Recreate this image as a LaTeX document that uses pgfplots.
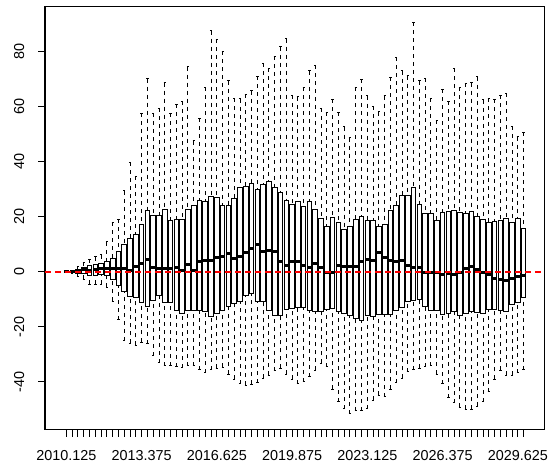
\documentclass[border=0pt]{standalone}
\usepackage{pgfplots}
\pgfplotsset{compat=1.18}
\usepackage{pgfplotstable}
\usepgfplotslibrary{statistics}
\usepackage{fontspec}
\setmainfont{Liberation Sans}
\begin{document}
\pgfplotstableread{
lw lq med uq uw
-0.2 -0.1 0.0 0.1 0.2
-0.5 -0.2 0.1 0.2 0.5
-1.6 -0.6 0.3 0.9 1.8
-2.8 -0.8 0.8 1.5 3.4
-4.5 -1.3 0.4 2.2 4.5
-4.5 -1.3 0.8 2.8 5.5
-4.5 -1.1 1.1 3.0 6.1
-5.7 -1.3 1.1 3.6 10.9
-10.7 -3.0 1.1 4.9 18.0
-17.4 -5.0 1.2 7.4 19.1
-25.2 -7.2 1.3 10.0 29.4
-26.1 -9.1 0.5 12.1 39.8
-26.8 -9.3 1.9 13.6 34.8
-25.6 -11.2 2.9 17.2 57.6
-26.2 -12.5 4.6 22.3 70.3
-30.5 -10.6 1.5 20.4 57.6
-33.1 -8.6 1.1 20.6 59.5
-34.3 -11.3 1.2 22.8 68.8
-34.3 -11.2 1.0 18.6 57.6
-34.6 -14.0 1.6 19.1 60.9
-34.9 -15.2 0.5 19.1 62.1
-34.2 -14.2 2.5 22.7 74.6
-34.2 -14.0 0.5 24.2 47.6
-35.6 -14.2 3.8 26.0 55.8
-36.7 -14.6 4.2 25.6 67.2
-35.6 -16.4 4.2 27.3 87.7
-35.2 -15.2 5.1 27.1 84.6
-34.8 -14.0 5.5 24.0 80.3
-37.3 -12.5 6.7 24.0 69.5
-39.1 -11.7 4.9 26.6 63.1
-40.7 -10.9 5.7 30.7 62.9
-41.3 -8.5 7.0 30.9 64.6
-40.9 -7.9 8.5 32.2 65.8
-40.4 -10.9 10.0 30.1 71.2
-38.8 -10.9 7.5 31.8 75.8
-37.6 -14.0 7.6 32.8 74.0
-36.0 -15.8 7.5 30.7 78.5
-35.2 -15.8 3.6 28.8 81.9
-37.3 -13.7 2.2 26.0 84.8
-39.2 -13.3 3.6 24.5 64.2
-40.7 -13.0 3.6 25.4 63.6
-40.0 -13.0 2.2 23.9 67.1
-38.2 -14.0 1.5 25.5 73.1
-35.8 -14.6 3.0 22.8 75.1
-33.4 -14.6 1.5 19.4 59.5
-34.6 -13.7 -0.4 16.6 58.0
-42.8 -13.3 -0.4 19.9 62.7
-47.3 -14.6 2.2 17.8 58.0
-49.8 -15.2 1.8 15.4 52.8
-51.6 -15.8 1.8 16.4 48.8
-50.6 -17.0 1.8 19.1 67.1
-50.6 -17.6 3.6 20.0 70.0
-49.8 -16.1 4.5 18.8 64.1
-46.7 -16.4 4.2 18.6 60.3
-44.9 -15.4 7.0 16.4 58.3
-45.5 -15.4 5.1 17.2 64.1
-42.8 -15.4 4.2 22.1 70.8
-40.4 -14.0 3.6 24.0 78.0
-38.8 -13.0 4.2 27.9 73.1
-36.4 -10.9 2.1 27.9 71.4
-35.6 -10.3 1.5 30.7 90.7
-35.2 -10.1 1.5 24.5 69.5
-34.6 -12.7 -0.2 21.2 70.4
-34.3 -14.2 -0.2 21.2 63.1
-37.3 -14.2 -0.4 18.6 55.2
-40.7 -15.4 -1.0 21.6 66.4
-45.9 -15.2 -0.6 21.8 62.1
-47.7 -14.6 -1.0 22.2 74.0
-49.4 -15.8 -0.4 21.6 67.1
-50.1 -15.2 1.2 21.2 68.6
-50.1 -14.6 1.9 22.0 68.8
-48.9 -14.9 0.8 20.0 71.0
-47.3 -15.2 -0.4 19.1 62.5
-43.7 -13.7 -1.0 18.0 63.1
-39.2 -13.7 -2.4 18.4 62.7
-35.8 -14.2 -3.0 18.8 64.3
-37.6 -14.6 -3.3 19.4 64.9
-37.6 -12.1 -2.4 17.8 53.0
-36.8 -11.3 -1.8 19.4 49.2
-35.6 -9.3 -1.2 15.9 50.8
}\boxdata
\pgfplotstableread{
x y
-2.7 0
83.7 0
}\zeroline
\begin{tikzpicture}
\begin{axis}[
  at={(33.75pt,27pt)}, anchor=south west,
  scale only axis, width=375pt, height=318pt,
  xmin=-2.7, xmax=83.7, ymin=-57.6, ymax=96.7,
  axis line style={black, line width=0.75pt},
  tick align=outside, major tick length=5pt,
  tick style={black, line width=0.75pt},
  xtick pos=bottom, ytick pos=left,
  xtick={1,...,80}, xticklabels={},
  extra x ticks={1,14,27,40,53,66,79},
  extra x tick labels={2010.125,2013.375,2016.625,2019.875,2023.125,2026.375,2029.625},
  extra x tick style={tick style={black, line width=0.75pt}},
  ytick={-40,-20,0,20,40,60,80},
  yticklabel style={rotate=90, anchor=south},
  ticklabel style={font=\fontsize{10.8}{13}\selectfont, text=black},
  xticklabel shift=6.5pt,
  yticklabel shift=7pt,
  /pgf/number format/assume math mode=true,
  boxplot/draw direction=y,
  boxplot/box extend=0.8,
  boxplot/whisker extend=0.4,
  boxplot/every box/.style={draw=black, fill=white, line width=0.75pt},
  boxplot/every median/.style={draw=black, line width=2.25pt},
  boxplot/draw/lower whisker/.code={%
    \draw[black, line width=0.75pt, dash pattern=on 3pt off 3pt]
      (boxplot cs:\pgfplotsboxplotvalue{lower whisker}) --
      (boxplot cs:\pgfplotsboxplotvalue{lower quartile});
    \draw[black, line width=0.75pt]
      (boxplot whisker cs:\pgfplotsboxplotvalue{lower whisker},0) --
      (boxplot whisker cs:\pgfplotsboxplotvalue{lower whisker},1);
  },
  boxplot/draw/upper whisker/.code={%
    \draw[black, line width=0.75pt, dash pattern=on 3pt off 3pt]
      (boxplot cs:\pgfplotsboxplotvalue{upper whisker}) --
      (boxplot cs:\pgfplotsboxplotvalue{upper quartile});
    \draw[black, line width=0.75pt]
      (boxplot whisker cs:\pgfplotsboxplotvalue{upper whisker},0) --
      (boxplot whisker cs:\pgfplotsboxplotvalue{upper whisker},1);
  },
]
\pgfplotsinvokeforeach{0,...,79}{
  \pgfplotstablegetelem{#1}{lw}\of\boxdata \edef\LW{\pgfplotsretval}
  \pgfplotstablegetelem{#1}{lq}\of\boxdata \edef\LQ{\pgfplotsretval}
  \pgfplotstablegetelem{#1}{med}\of\boxdata \edef\MED{\pgfplotsretval}
  \pgfplotstablegetelem{#1}{uq}\of\boxdata \edef\UQ{\pgfplotsretval}
  \pgfplotstablegetelem{#1}{uw}\of\boxdata \edef\UW{\pgfplotsretval}
  \edef\doboxplot{\noexpand\addplot[boxplot prepared={
      lower whisker=\LW, lower quartile=\LQ, median=\MED,
      upper quartile=\UQ, upper whisker=\UW,
      draw position=\the\numexpr#1+1\relax}] coordinates {};}
  \doboxplot
}
\addplot[draw=red, line width=1.5pt, dash pattern=on 4.5pt off 3pt, forget plot] table[x=x, y=y] {\zeroline};
\end{axis}
\pgfresetboundingbox
\path[use as bounding box] (0,0) rectangle (412.5pt,349.5pt);
\end{tikzpicture}
\end{document}
